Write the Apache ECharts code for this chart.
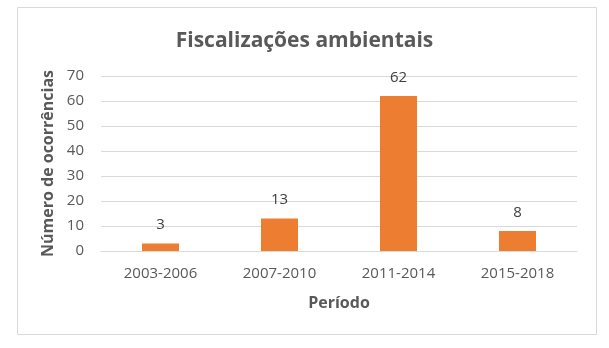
<!DOCTYPE html>
<html><head><meta charset="utf-8">
<script src="https://cdn.jsdelivr.net/npm/echarts@6/dist/echarts.min.js"></script>
<style>html,body{margin:0;padding:0;background:#fff}#c{width:609px;height:348px}</style>
</head><body><div id="c"></div>
<script>
const categories = ['2003-2006', '2007-2010', '2011-2014', '2015-2018'];
const values = [3, 13, 62, 8];
const yTicks = [0, 10, 20, 30, 40, 50, 60, 70];
const titleText = 'Fiscalizações ambientais';
const yName = 'Número de ocorrências';
const xName = 'Período';

const font = 'Open Sans, Liberation Sans, sans-serif';
const chart = echarts.init(document.getElementById('c'), null, {renderer: 'canvas'});
chart.setOption({
  animation: false,
  title: {text: titleText, left: 'center', top: 26, textStyle: {fontFamily: font, fontSize: 21, fontWeight: 'bold', color: '#595959'}},
  graphic: [{type: 'rect', shape: {x: 17.5, y: 7.5, width: 579, height: 327}, style: {fill: 'none', stroke: '#d9d9d9', lineWidth: 1}, silent: true}],
  grid: {left: 101, right: 32, top: 76, bottom: 97},
  xAxis: {type: 'category', data: categories,
    axisLine: {lineStyle: {color: '#d9d9d9'}}, axisTick: {show: false},
    axisLabel: {fontFamily: font, fontSize: 15, color: '#595959', margin: 15},
    name: xName, nameLocation: 'middle', nameGap: 44,
    nameTextStyle: {fontFamily: font, fontSize: 16, fontWeight: 'bold', color: '#595959'}},
  yAxis: {type: 'value', min: yTicks[0], max: yTicks[yTicks.length - 1], interval: 10,
    axisLine: {show: false}, axisTick: {show: false},
    splitLine: {lineStyle: {color: '#d9d9d9'}},
    axisLabel: {fontFamily: font, fontSize: 15, color: '#595959', margin: 17},
    name: yName, nameLocation: 'middle', nameGap: 37,
    nameTextStyle: {fontFamily: font, fontSize: 16, fontWeight: 'bold', color: '#595959'}},
  series: [{type: 'bar', data: values, barWidth: 37, itemStyle: {color: '#ED7D31'},
    label: {show: true, position: 'top', distance: 11, fontFamily: font, fontSize: 15, color: '#404040'}}]
});
</script></body></html>
